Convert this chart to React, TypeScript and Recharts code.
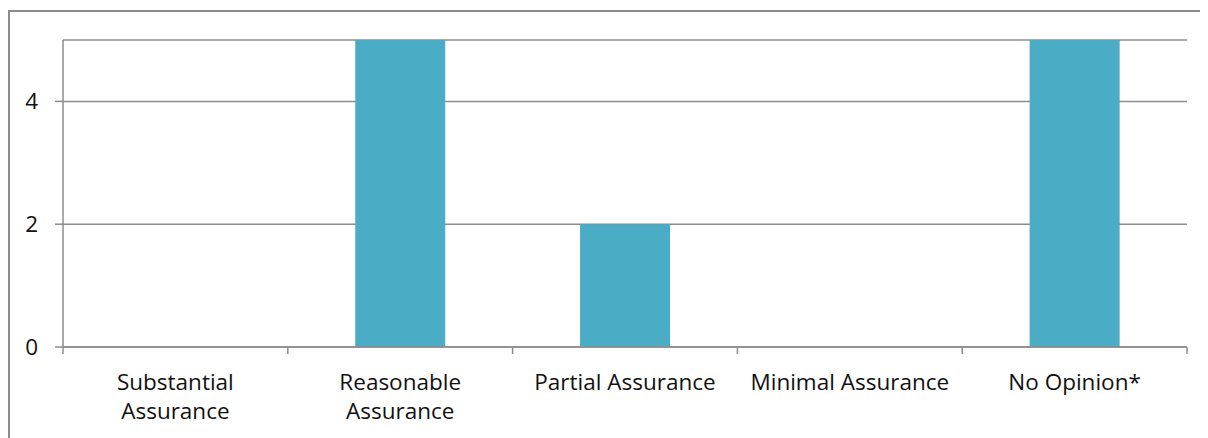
import { BarChart, Bar, XAxis, YAxis, CartesianGrid, Customized } from "recharts";

const categories = [
  "Substantial\nAssurance",
  "Reasonable\nAssurance",
  "Partial Assurance",
  "Minimal Assurance",
  "No Opinion*",
];
const counts = [0, 5, 2, 0, 5];
const yTicks = [0, 2, 4];

const data = categories.map((name, i) => ({ name, count: counts[i] }));

const W = 1200;
const H = 430;
const MARGIN = { top: 32, right: 21, bottom: 30, left: 0 };
const Y_W = 55;
const X_H = 61;
const BAND = (W - MARGIN.left - MARGIN.right - Y_W) / categories.length;

const FONT = "'Open Sans', sans-serif";
const AXIS = "#8c8c8c";

function CategoryTick(props: any) {
  const { x, y, payload, index } = props;
  const lines = String(payload.value).split("\n");
  const left = x - BAND / 2;
  const right = x + BAND / 2;
  return (
    <g>
      <line x1={left} y1={y} x2={left} y2={y + 7} stroke={AXIS} strokeWidth={1.5} />
      {index === categories.length - 1 && (
        <line x1={right} y1={y} x2={right} y2={y + 7} stroke={AXIS} strokeWidth={1.5} />
      )}
      <text x={x} y={y} textAnchor="middle" fill="#111" fontSize={22.5} fontFamily={FONT}>
        {lines.map((l, i) => (
          <tspan key={i} x={x} y={y + 42.5 + i * 29}>
            {l}
          </tspan>
        ))}
      </text>
    </g>
  );
}

// chart frame: only the left and top edges are inside the picture
function Frame() {
  return (
    <path
      d={`M1,${H} L1,3 L${W},3`}
      fill="none"
      stroke={AXIS}
      strokeWidth={2}
    />
  );
}

export default function App() {
  return (
    <div style={{ width: W, height: H }}>
      <style>{`html,body{overflow:hidden}`}</style>
      <BarChart width={W} height={H} data={data} margin={MARGIN} barCategoryGap="30%">
        <Customized component={Frame} />
        <CartesianGrid vertical={false} stroke={AXIS} strokeWidth={1.5} />
        <XAxis
          dataKey="name"
          height={X_H}
          interval={0}
          tickSize={0}
          tickMargin={0}
          tickLine={false}
          axisLine={{ stroke: AXIS, strokeWidth: 1.5 }}
          tick={<CategoryTick />}
        />
        <YAxis
          width={Y_W}
          domain={[0, 5]}
          ticks={yTicks}
          interval={0}
          tickSize={8}
          tickMargin={17}
          axisLine={{ stroke: AXIS, strokeWidth: 1.5 }}
          tickLine={{ stroke: AXIS, strokeWidth: 1.5 }}
          tick={{ fill: "#111", fontSize: 22.5, fontFamily: FONT }}
        />
        <Bar dataKey="count" fill="#4BACC6" isAnimationActive={false} />
      </BarChart>
    </div>
  );
}
